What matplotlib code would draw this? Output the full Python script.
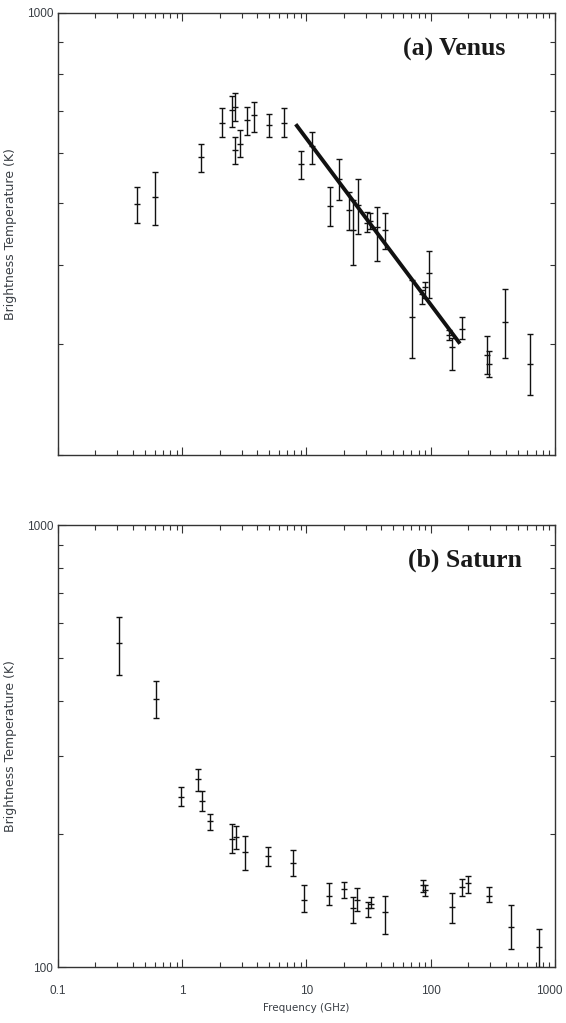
import numpy as np
import matplotlib
matplotlib.use('Agg')
import matplotlib.pyplot as plt
from matplotlib.ticker import LogLocator, NullFormatter, FixedLocator, FixedFormatter
from matplotlib.transforms import ScaledTranslation

# Venus: frequency (GHz), brightness temperature (K), lower / upper error ends
venus_f = [0.43, 0.607, 1.415, 2.08, 2.5, 2.67, 2.67, 2.92, 3.3, 3.8, 5.0, 6.6,
           8.98, 11.0, 15.5, 18.4, 22.1, 23.5, 25.8, 30.8, 32.4, 36.7, 42.9,
           70.3, 84.6, 89.9, 96.8, 141, 149, 179.5, 285, 294, 398, 629]
venus_t = [499, 512, 592, 670, 702, 710, 607, 620, 677, 689, 665, 671,
           577, 616, 496, 547, 488, 453, 497, 465, 469, 459, 453,
           331, 360, 369, 388, 310, 296, 317, 288, 279, 325, 279]
venus_lo = [466, 462, 561, 636, 661, 675, 577, 592, 641, 648, 637, 636,
            546, 577, 461, 507, 453, 399, 447, 451, 456, 406, 423,
            285, 347, 354, 354, 304, 273, 305, 269, 266, 285, 249]
venus_hi = [531, 561, 620, 708, 739, 748, 637, 653, 710, 724, 692, 708,
            605, 649, 531, 587, 521, 506, 546, 485, 482, 493, 483,
            378, 365, 376, 421, 315, 306, 331, 308, 292, 366, 311]
venus_fit_f = [8.19, 172]
venus_fit_t = [667, 300]

# Saturn
saturn_f = [0.31, 0.611, 0.972, 1.346, 1.435, 1.67, 2.53, 2.71, 3.2, 4.93, 7.83,
            9.55, 15.2, 19.9, 23.5, 25.4, 31.1, 32.9, 42.9, 86.1, 89.9,
            149, 178, 198, 296, 440, 748]
saturn_t = [540, 404, 243, 266, 237, 214, 195, 197, 182, 178, 172,
            142, 145, 150, 136, 142, 136, 139, 133, 153, 149,
            137, 152, 155, 145, 123, 111]
saturn_lo = [458, 365, 231, 250, 225, 204, 181, 185, 166, 169, 161,
             133, 138, 143, 126, 134, 130, 136, 119, 148, 145,
             126, 145, 147, 140, 110, 100]
saturn_hi = [618, 443, 256, 280, 250, 222, 211, 209, 198, 187, 184,
             153, 155, 156, 144, 151, 140, 144, 145, 157, 153,
             147, 158, 161, 152, 138, 122]

txt_col = '#3a3f45'
fig = plt.figure(figsize=(5.66, 10.23), dpi=100)
ax1 = fig.add_axes([0.1025, 0.5552, 0.878, 0.4321])
ax2 = fig.add_axes([0.1025, 0.0547, 0.878, 0.4321])


def draw(ax, f, t, lo, hi):
    f = np.array(f); t = np.array(t)
    yerr = [t - np.array(lo), np.array(hi) - t]
    ax.errorbar(f, t, yerr=yerr, fmt='_', color='#111111', ms=4.5, mew=1.0,
                elinewidth=1.0, capsize=2.2, capthick=1.0)


def style(ax, ymin, ymax, ylabels):
    ax.set_xscale('log')
    ax.set_yscale('log')
    ax.set_xlim(0.1, 1000)
    ax.set_ylim(ymin, ymax)
    ax.xaxis.set_major_locator(LogLocator(base=10, numticks=10))
    ax.xaxis.set_minor_locator(LogLocator(base=10, subs=np.arange(2, 10), numticks=20))
    ax.xaxis.set_minor_formatter(NullFormatter())
    yt = [v for v in [100, 200, 300, 400, 500, 600, 700, 800, 900, 1000] if ymin <= v <= ymax]
    ax.yaxis.set_major_locator(FixedLocator(ylabels))
    ax.yaxis.set_major_formatter(FixedFormatter([str(v) for v in ylabels]))
    ax.yaxis.set_minor_locator(FixedLocator([v for v in yt if v not in ylabels]))
    ax.yaxis.set_minor_formatter(NullFormatter())
    ax.tick_params(which='both', direction='in', top=True, right=True,
                   colors='#333333', labelcolor=txt_col, labelsize=8.5, width=0.8)
    ax.tick_params(which='major', length=6)
    ax.tick_params(which='minor', length=3.5)
    for lab in ax.get_yticklabels():
        lab.set_family('Liberation Sans')
    for s in ax.spines.values():
        s.set_color('#333333')
        s.set_linewidth(1.0)
    ax.set_ylabel('Brightness Temperature (K)', fontsize=9, color=txt_col)
    ax.yaxis.set_label_coords(-0.083, 0.5)


draw(ax1, venus_f, venus_t, venus_lo, venus_hi)
ax1.plot(venus_fit_f, venus_fit_t, color='#111111', lw=2.8, solid_capstyle='butt')
style(ax1, 200, 1000, [1000])
ax1.xaxis.set_major_formatter(NullFormatter())
ax1.text(0.90, 0.918, '(a) Venus', transform=ax1.transAxes, ha='right', va='center',
         fontsize=18.5, fontweight='bold', family='Liberation Serif', color='#1a1a1a')

draw(ax2, saturn_f, saturn_t, saturn_lo, saturn_hi)
style(ax2, 100, 1000, [100, 1000])
ax2.set_xticks([0.1, 1, 10, 100, 1000])
ax2.set_xticklabels(['0.1', '1', '10', '100', '1000'], family='Liberation Sans', fontsize=8.5)
ax2.tick_params(axis='x', which='major', pad=13)
last = ax2.get_xticklabels()[-1]
last.set_transform(last.get_transform() + ScaledTranslation(-4 / 72, 0, fig.dpi_scale_trans))
ax2.set_xlabel('Frequency (GHz)', fontsize=7.5, color=txt_col, labelpad=4)
ax2.text(0.934, 0.92, '(b) Saturn', transform=ax2.transAxes, ha='right', va='center',
         fontsize=18.5, fontweight='bold', family='Liberation Serif', color='#1a1a1a')

fig.savefig('out.png', dpi=100)
